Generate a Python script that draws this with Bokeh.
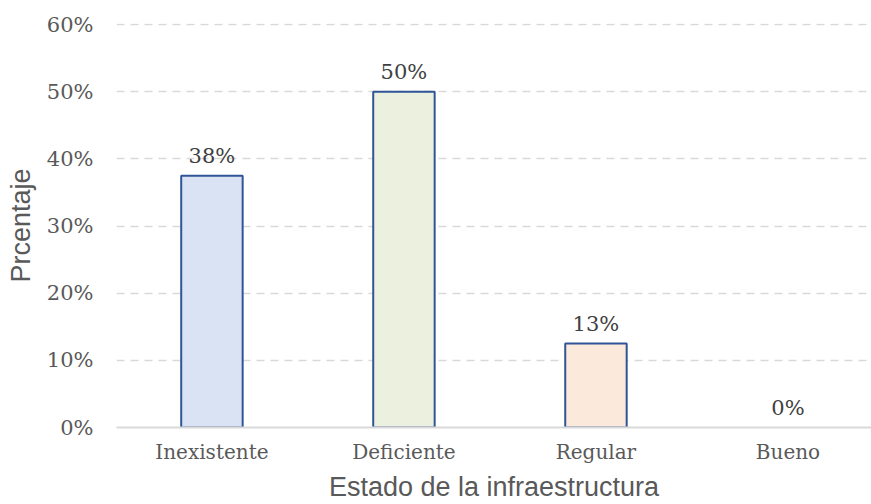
from bokeh.plotting import figure
from bokeh.models import ColumnDataSource, NumeralTickFormatter, Range1d, LabelSet, FixedTicker
from bokeh.core.properties import value
from bokeh.embed import file_html
from bokeh.resources import INLINE

categories = ["Inexistente", "Deficiente", "Regular", "Bueno"]
values = [0.375, 0.50, 0.125, 0.0]
labels = ["38%", "50%", "13%", "0%"]
colors = ["#DAE3F3", "#EBF1DE", "#FBE9DB", "#DAE3F3"]
y_ticks = [0, 0.1, 0.2, 0.3, 0.4, 0.5, 0.6]

pos = list(range(len(categories)))
src = ColumnDataSource(dict(x=pos, val=values, lab=labels, col=colors,
                            lw=[2, 2, 2, 0]))

p = figure(x_range=Range1d(-0.497, 3.435), y_range=Range1d(0, 0.6015),
           width=871, height=504, output_backend="svg", toolbar_location=None,
           min_border_left=116, min_border_top=23, min_border_bottom=70, min_border_right=0)
p.outline_line_color = None

p.vbar(x="x", top="val", width=0.32, source=src, fill_color="col",
       line_color="#2F5597", line_width="lw")

ls = LabelSet(x="x", y="val", text="lab", source=src, text_align="center",
              text_baseline="bottom", y_offset=8, text_font=value("DejaVu Serif"),
              text_font_size=value("21px"), text_color=value("#404040"))
p.add_layout(ls)

p.yaxis.formatter = NumeralTickFormatter(format="0%")
p.yaxis.ticker = FixedTicker(ticks=y_ticks)
p.xaxis.ticker = FixedTicker(ticks=pos)
p.xaxis.major_label_overrides = {i: c for i, c in zip(pos, categories)}
for ax in (p.xaxis, p.yaxis):
    ax.major_tick_line_color = None
    ax.minor_tick_line_color = None
    ax.major_tick_out = 0
    ax.major_tick_in = 0
    ax.major_label_text_font = "DejaVu Serif"
    ax.major_label_text_font_size = "21px"
    ax.major_label_text_color = "#595959"
    ax.axis_label_text_font = "Liberation Sans"
    ax.axis_label_text_font_style = "normal"
    ax.axis_label_text_font_size = "27px"
    ax.axis_label_text_color = "#595959"
p.xaxis.major_label_text_font_size = "20px"
p.yaxis.axis_line_color = None
p.xaxis.axis_line_color = "#D9D9D9"
p.xaxis.axis_line_width = 2
p.yaxis.major_label_standoff = 23
p.xaxis.major_label_standoff = 12
p.xaxis.axis_label_standoff = 5
p.yaxis.axis_label_standoff = 8
p.xaxis.axis_label = "Estado de la infraestructura"
p.yaxis.axis_label = "Prcentaje"

p.xgrid.grid_line_color = None
p.ygrid.grid_line_color = "#D9D9D9"
p.ygrid.grid_line_dash = "8 6"
p.ygrid.grid_line_width = 1.5

open("out.html", "w").write(file_html(p, INLINE))
